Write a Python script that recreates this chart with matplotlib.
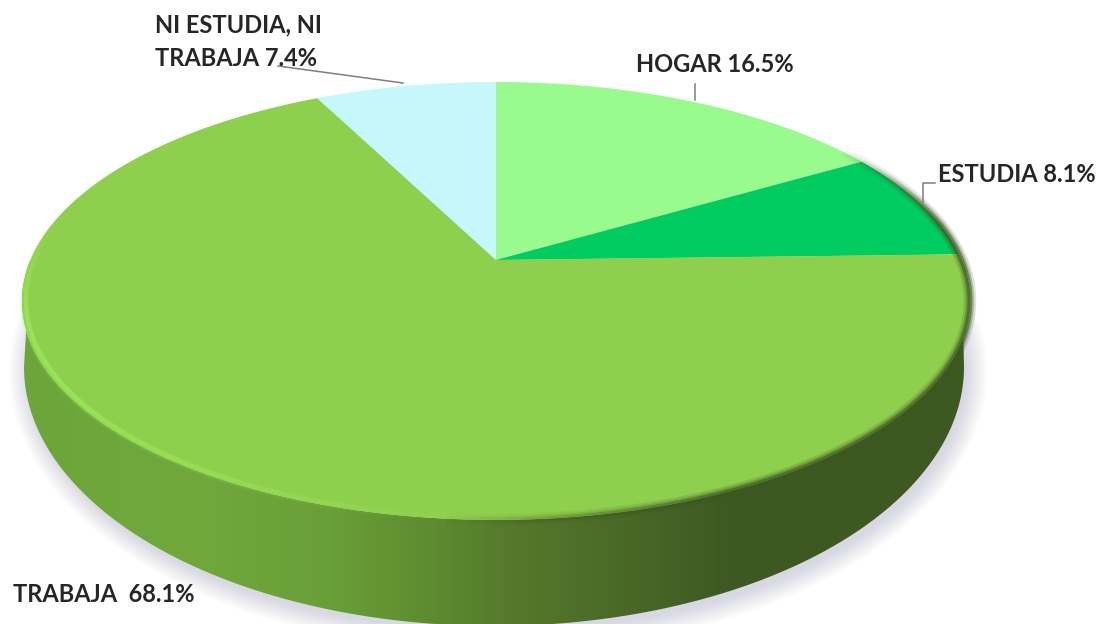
import numpy as np
import matplotlib
matplotlib.use("Agg")
import matplotlib.pyplot as plt
from matplotlib.collections import LineCollection
from matplotlib.colors import LinearSegmentedColormap, to_rgb
from matplotlib.patches import Ellipse, Polygon

# share of each group, clockwise from the top of the disc
categorias = ["HOGAR", "ESTUDIA", "TRABAJA", "NI ESTUDIA, NI\nTRABAJA"]
porcentajes = [16.5, 8.1, 68.1, 7.4]
colores = ["#99FA8E", "#00CC60", "#8FCF4E", "#C6F7FB"]

CENTRO = (496, 260)
A, B, K = 465.6, 211.3, 0.187


def proyectar(theta, escala=1.0):
    # tilted disc: perspective mapping of the unit circle, theta clockwise from the top
    x, y = np.sin(theta) * escala, np.cos(theta) * escala
    d = 1 + K * y
    return CENTRO[0] + A * x / d, CENTRO[1] - B * y / d


def borde_inferior(theta):
    return 494 + 470 * np.sin(theta), 367 - 259 * np.cos(theta)


def trazo_borde(t, escala, color, alfas, ancho):
    xr, yr = proyectar(t, escala)
    puntos = np.column_stack([xr, yr])
    segmentos = np.stack([puntos[:-1], puntos[1:]], axis=1)
    rgba = np.zeros((len(alfas), 4))
    rgba[:, :3] = to_rgb(color)
    rgba[:, 3] = alfas
    ax.add_collection(LineCollection(segmentos, colors=rgba, linewidths=ancho, zorder=4))


fig, ax = plt.subplots(figsize=(11, 6.24), dpi=100)
ax.set_position([0, 0, 1, 1])
ax.axis("off")

# soft shadow under the disc
for i in range(14):
    ax.add_patch(Ellipse((498, 372), 2 * (468 + i * 1.6), 2 * (259 + i * 1.6),
                         color="#8a8aa6", alpha=0.024, lw=0, zorder=1))

# side wall with a horizontal shading
t_top = np.linspace(np.pi * 0.5, np.pi * 1.5, 200)
t_low = t_top[::-1]
xt, yt = proyectar(t_top)
xb, yb = borde_inferior(t_low)
pared = Polygon(np.column_stack([np.r_[xt, xb], np.r_[yt, yb]]), transform=ax.transData,
                fc="none", ec="none")
ax.add_patch(pared)
paradas = [(0.0, "#6CA63A"), (0.03, "#6CA63A"), (0.18, "#70A83C"), (0.30, "#699F37"),
           (0.38, "#5F8E31"), (0.47, "#54782B"), (0.56, "#4A6A27"), (0.66, "#3E5A22"),
           (1.0, "#3D5721")]
cmap = LinearSegmentedColormap.from_list("pared", paradas)
img = ax.imshow(np.linspace(0, 1, 512)[None, :], extent=[0, 1100, 624, 0], cmap=cmap,
                aspect="auto", zorder=2)
img.set_clip_path(pared)

# slices of the top face
acum = np.cumsum([0] + porcentajes) / sum(porcentajes) * 2 * np.pi
for ini, fin, color in zip(acum[:-1], acum[1:], colores):
    xs, ys = proyectar(np.linspace(ini, fin, 200))
    ax.fill(np.r_[CENTRO[0], xs], np.r_[CENTRO[1], ys], color=color, lw=0, zorder=3)

# bevel along the rim: bright on the front left, dark on the right
t = np.radians(np.linspace(55, 300, 491))
grados = np.degrees(t[:-1])
brillo = np.clip((grados - 178) / 55, 0, 1) * np.clip((280 - grados) / 25, 0, 1)
oscuro = np.clip((grados - 55) / 25, 0, 1) * np.clip((185 - grados) / 30, 0, 1)

for escala, ancho, alfa in [(0.995, 7, 0.10), (0.995, 5, 0.2), (0.992, 3, 0.45)]:
    trazo_borde(t, escala, "#A2F25A", brillo * alfa, ancho)
for ancho, alfa in [(9, 0.18), (6, 0.3), (3.5, 0.6)]:
    trazo_borde(t, 1.0, "#3D5721", oscuro * alfa, ancho)

# leader lines
guia = dict(color="#7F7F7F", lw=1.1, zorder=5)
ax.plot([278, 403], [66, 83], **guia)
ax.plot([695, 695], [84, 100], **guia)
ax.plot([923, 923, 935], [204, 183, 183], **guia)

# labels
estilo = dict(family="Lato", fontweight="bold", fontsize=17, color="#262626", zorder=6)
ax.text(155, 25, categorias[3].split("\n")[0], va="center", **estilo)
ax.text(155, 58, f"{categorias[3].split(chr(10))[1]} {porcentajes[3]}%", va="center", **estilo)
ax.text(636, 65, f"{categorias[0]} {porcentajes[0]}%", va="center", **estilo)
ax.text(938, 175, f"{categorias[1]} {porcentajes[1]}%", va="center", **estilo)
ax.text(13, 595, f"{categorias[2]}  {porcentajes[2]}%", va="center", **estilo)

ax.set_xlim(0, 1100)
ax.set_ylim(624, 0)
fig.savefig("out.png", dpi=100)
